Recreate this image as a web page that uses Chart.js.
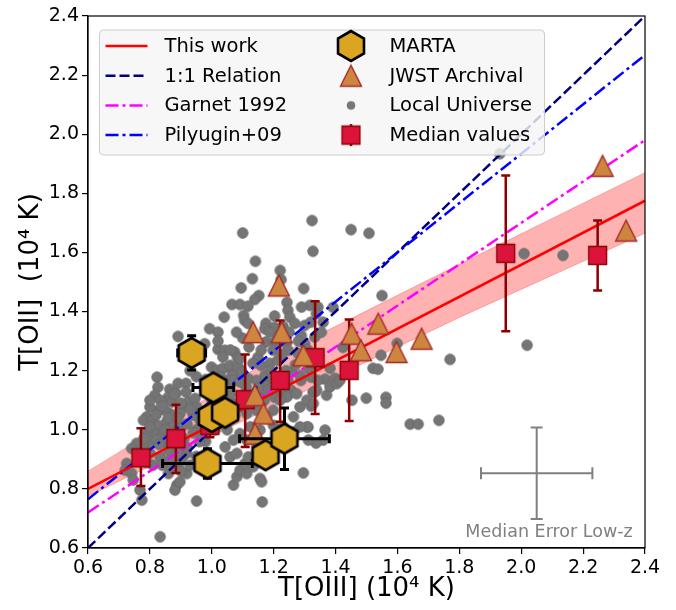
<!DOCTYPE html>
<html>
<head>
<meta charset="utf-8">
<script src="https://cdn.jsdelivr.net/npm/chart.js@4.4.1/dist/chart.umd.min.js"></script>
<style>
  html, body { margin: 0; padding: 0; background: #ffffff; }
</style>
</head>
<body>
<canvas id="tempChart" width="676" height="610"></canvas>
<script>
/* ---------- local universe sample: T[OIII], T[OII] (1e4 K) ---------- */
const localT3 = [
  1.100, 1.324, 1.327, 1.450, 1.508, 1.141, 1.221, 1.224, 1.131, 1.095, 1.297, 1.152, 1.139, 1.065, 1.091, 1.117,
  1.243, 1.317, 1.343, 1.338, 1.360, 1.550, 1.040, 1.103, 1.106, 1.203, 1.246, 1.252, 0.993, 1.020, 1.175, 1.171,
  1.203, 1.187, 1.214, 1.268, 1.300, 1.320, 0.891, 0.977, 1.020, 1.042, 1.036, 1.074, 1.083, 1.392, 1.424, 1.599,
  1.547, 1.521, 1.537, 1.382, 1.366, 1.398, 1.770, 2.009, 2.135, 2.019, 1.327, 1.321, 1.453, 1.499, 1.563, 1.563,
  1.311, 1.366, 1.360, 1.337, 1.641, 1.667, 1.734, 1.175, 1.203, 1.241, 1.246, 1.198, 1.225, 1.279, 1.300, 1.289,
  1.333, 1.354, 1.149, 1.133, 1.159, 1.187, 1.214, 1.030, 1.062, 1.094, 1.062, 1.090, 1.042, 0.823, 0.826, 0.864,
  0.891, 0.917, 0.917, 0.884, 0.859, 0.816, 1.288, 1.321, 1.343, 1.111, 1.171, 1.203, 1.246, 1.256, 1.220, 1.182,
  1.159, 1.203, 1.246, 1.333, 1.117, 1.290, 0.999, 1.016, 1.036, 1.059, 1.085, 1.097, 1.065, 1.027, 1.070, 1.091,
  1.118, 1.145, 1.172, 1.199, 1.226, 1.258, 1.285, 1.312, 1.339, 0.833, 0.871, 0.903, 0.897, 0.924, 0.946, 0.951,
  0.865, 0.849, 0.827, 0.800, 0.790, 0.779, 0.806, 0.827, 0.854, 0.876, 0.897, 0.838, 0.811, 0.790, 0.800, 0.822,
  0.854, 0.887, 0.903, 0.871, 0.919, 0.903, 0.865, 0.833, 0.800, 0.779, 0.757, 0.741, 0.725, 0.720, 0.741, 0.746,
  0.768, 0.774, 0.887, 0.881, 0.897, 0.860, 0.919, 0.892, 0.951, 0.833, 1.070, 1.081, 1.091, 1.113, 1.107, 1.134,
  1.118, 1.145, 1.156, 1.161, 1.163, 1.296, 1.307, 1.312, 1.091, 1.113, 1.145, 1.070, 1.043, 1.059, 1.081, 1.199,
  1.231, 1.264, 1.285, 1.264, 1.285, 1.307, 1.328, 1.339, 1.371, 1.382, 1.404, 1.414, 1.242, 1.274, 1.199, 1.221,
  1.070, 1.091, 1.048, 1.075, 1.113, 1.145, 1.027, 1.124, 1.156, 1.178, 0.978, 0.962, 0.950, 0.980, 1.000, 0.940,
  1.931, 0.800, 0.840, 0.880, 0.900, 0.930, 0.860, 0.890, 0.920, 0.940, 0.910, 0.880, 0.850, 0.820, 0.800, 0.830,
  0.860, 0.890, 0.920, 0.960, 0.780, 0.760, 0.790, 0.810, 0.840, 0.870, 0.900, 0.930, 0.950, 0.970, 0.990, 1.010,
  1.030, 1.050, 1.060, 1.100, 1.130, 1.150, 1.170, 1.190, 1.160, 1.120, 1.100, 1.080, 1.140, 1.230, 1.250, 1.280,
  1.310, 1.270, 1.240, 1.090, 1.060, 1.020, 0.960, 0.950, 0.980, 0.930
];
const localT2 = [
  1.666, 1.708, 1.604, 1.677, 1.665, 1.570, 1.539, 1.508, 1.511, 1.480, 1.478, 1.454, 1.441, 1.424, 1.424, 1.418,
  1.431, 1.421, 1.415, 1.393, 1.364, 1.454, 1.381, 1.387, 1.370, 1.385, 1.404, 1.381, 1.342, 1.330, 1.360, 1.342,
  1.347, 1.330, 1.314, 1.360, 1.353, 1.364, 1.316, 1.291, 1.272, 1.269, 1.246, 1.263, 1.244, 1.414, 1.279, 1.292,
  1.252, 1.208, 1.205, 1.208, 1.171, 1.174, 1.238, 1.596, 1.590, 1.286, 1.127, 1.080, 1.100, 1.107, 1.110, 1.090,
  1.009, 0.999, 0.965, 0.955, 1.019, 1.019, 1.032, 1.297, 1.297, 1.291, 1.269, 1.269, 1.255, 1.258, 1.291, 1.319,
  1.314, 1.330, 1.245, 1.225, 1.218, 1.225, 1.235, 1.201, 1.208, 1.201, 1.167, 1.167, 1.167, 1.178, 1.144, 1.137,
  1.157, 1.157, 1.127, 1.123, 1.110, 1.117, 1.167, 1.178, 1.167, 1.144, 1.157, 1.167, 1.167, 1.134, 1.134, 1.134,
  1.110, 1.110, 1.117, 1.128, 1.360, 1.415, 1.212, 1.201, 1.208, 1.218, 1.212, 1.195, 1.184, 1.178, 1.167, 1.162,
  1.173, 1.167, 1.184, 1.173, 1.178, 1.195, 1.184, 1.207, 1.218, 1.100, 1.094, 1.077, 1.055, 1.094, 1.106, 1.077,
  1.055, 1.066, 1.066, 1.077, 1.044, 1.032, 1.032, 1.015, 1.027, 1.022, 1.010, 0.987, 0.987, 0.993, 0.954, 0.965,
  0.954, 0.965, 0.942, 0.931, 0.920, 0.903, 0.897, 0.908, 0.920, 0.942, 0.954, 0.937, 0.886, 0.863, 0.852, 0.830,
  0.796, 0.762, 0.813, 0.796, 0.824, 0.852, 0.852, 0.875, 0.759, 0.638, 0.813, 0.841, 0.863, 0.852, 0.886, 0.875,
  0.908, 0.925, 0.835, 0.824, 0.756, 0.854, 1.010, 0.965, 0.987, 0.965, 0.948, 0.965, 0.942, 0.908, 0.920, 1.015,
  1.010, 0.993, 1.010, 1.044, 1.077, 1.100, 1.089, 1.134, 1.117, 1.145, 1.156, 1.167, 1.111, 1.122, 1.066, 1.100,
  1.089, 1.077, 1.066, 1.049, 1.055, 1.066, 1.100, 1.010, 0.999, 1.044, 1.134, 1.032, 1.000, 0.960, 1.100, 1.050,
  1.934, 1.100, 1.080, 1.120, 1.090, 1.070, 1.040, 1.040, 1.020, 0.990, 0.970, 0.990, 1.000, 1.050, 1.010, 0.950,
  0.930, 0.920, 0.940, 0.960, 0.970, 0.910, 0.890, 0.880, 0.880, 0.870, 0.860, 0.880, 0.910, 0.980, 1.040, 1.000,
  1.020, 1.000, 1.120, 1.100, 1.120, 1.140, 1.100, 1.200, 1.270, 1.280, 1.310, 1.330, 1.320, 1.350, 1.330, 1.300,
  1.270, 1.220, 1.200, 1.240, 1.270, 1.300, 1.240, 1.180, 1.170, 1.200
];

/* ---------- JWST archival ---------- */
const jwstT3 = [1.217, 1.134, 1.226, 1.296, 1.140, 1.167, 1.140, 1.452, 1.482, 1.538, 1.597, 1.678, 2.263, 2.339];
const jwstT2 = [1.488, 1.330, 1.330, 1.252, 1.117, 1.055, 0.987, 1.325, 1.269, 1.359, 1.263, 1.308, 1.893, 1.674];

/* ---------- MARTA ---------- */
const martaT3 = [0.935, 1.005, 1.000, 1.043, 0.986, 1.174, 1.235];
const martaT2 = [1.260, 1.143, 1.043, 1.058, 0.886, 0.914, 0.970];
const martaErrT3 = [0.045, 0.066, 0.010, 0.010, 0.145, 0.020, 0.145];
const martaErrT2 = [0.058, 0.012, 0.010, 0.010, 0.050, 0.020, 0.104];

/* ---------- binned medians ---------- */
const medianT3 = [0.771, 0.884, 0.994, 1.108, 1.221, 1.334, 1.444, 1.950, 2.247];
const medianT2 = [0.905, 0.970, 1.015, 1.102, 1.167, 1.244, 1.201, 1.597, 1.590];
const medianLo = [0.095, 0.116, 0.040, 0.160, 0.140, 0.191, 0.171, 0.264, 0.119];
const medianHi = [0.100, 0.115, 0.040, 0.153, 0.203, 0.191, 0.172, 0.263, 0.118];

/* ---------- relations ---------- */
const relT3 = [0.6, 2.4];
const fitT2 = [0.800, 1.775];
const oneToOneT2 = [0.6, 2.4];
const garnetT2 = [0.72, 1.98];
const pilyuginT2 = [0.765, 2.268];
const bandT3 = [0.6, 1.2, 1.8, 2.4];
const bandUpper = [0.86, 1.245, 1.56, 1.87];
const bandLower = [0.775, 1.08, 1.38, 1.665];

/* ---------- typical low-z uncertainty ---------- */
const lowzT3 = [2.05];
const lowzT2 = [0.853];
const lowzErrT3 = [0.18];
const lowzErrT2 = [0.155];

const pts = (xs, ys) => xs.map((v, i) => ({ x: v, y: ys[i] }));

/* marker images (matplotlib-like shapes) */
function makeMarker(shape, r, fill, stroke, lw) {
  const s = Math.ceil(2 * r + 2 * lw + 4);
  const c = document.createElement('canvas');
  c.width = s; c.height = s;
  const g = c.getContext('2d');
  const m = s / 2;
  g.beginPath();
  if (shape === 'hex') {
    for (let k = 0; k < 6; k++) {
      const a = Math.PI / 2 + k * Math.PI / 3;
      const px = m + r * Math.cos(a), py = m - r * Math.sin(a);
      if (k === 0) g.moveTo(px, py); else g.lineTo(px, py);
    }
  } else if (shape === 'tri') {
    g.moveTo(m, m - r); g.lineTo(m - r, m + r); g.lineTo(m + r, m + r);
  } else if (shape === 'square') {
    g.rect(m - r, m - r, 2 * r, 2 * r);
  } else {
    g.arc(m, m, r, 0, Math.PI * 2);
  }
  g.closePath();
  g.fillStyle = fill;
  g.fill();
  if (lw > 0) {
    g.lineWidth = lw; g.strokeStyle = stroke; g.lineJoin = 'miter';
    g.stroke();
  }
  return c;
}

const hexImg = makeMarker('hex', 15, '#DAA520', '#000000', 2.6);
const triImg = makeMarker('tri', 10.5, '#CD853F', '#A52A2A', 1.4);
const sqImg = makeMarker('square', 9, '#DC143C', '#8B0000', 1.3);
const dotImg = makeMarker('circle', 5.4, '#757575', '#666666', 0.6);
const dotLegendImg = makeMarker('circle', 4, '#777777', '#6a6a6a', 0.6);

/* error bars drawn just under each dataset's markers */
const errorBars = {
  id: 'errorBars',
  beforeDatasetDraw(chart, args) {
    const ds = chart.data.datasets[args.index];
    if (!ds.err) return;
    const { ctx, scales: { x, y } } = chart;
    const e = ds.err;
    ctx.save();
    ctx.strokeStyle = e.color;
    ctx.lineWidth = e.width;
    ds.data.forEach((p, i) => {
      const px = x.getPixelForValue(p.x), py = y.getPixelForValue(p.y);
      const xe = e.x ? e.x[i] : 0;
      const ylo = e.ylo ? e.ylo[i] : 0, yhi = e.yhi ? e.yhi[i] : 0;
      ctx.beginPath();
      if (xe > 0) {
        const x1 = x.getPixelForValue(p.x - xe), x2 = x.getPixelForValue(p.x + xe);
        ctx.moveTo(x1, py); ctx.lineTo(x2, py);
        ctx.moveTo(x1, py - e.cap); ctx.lineTo(x1, py + e.cap);
        ctx.moveTo(x2, py - e.cap); ctx.lineTo(x2, py + e.cap);
      }
      if (ylo > 0 || yhi > 0) {
        const y1 = y.getPixelForValue(p.y - ylo), y2 = y.getPixelForValue(p.y + yhi);
        ctx.moveTo(px, y1); ctx.lineTo(px, y2);
        ctx.moveTo(px - e.cap, y1); ctx.lineTo(px + e.cap, y1);
        ctx.moveTo(px - e.cap, y2); ctx.lineTo(px + e.cap, y2);
      }
      ctx.stroke();
    });
    ctx.restore();
  }
};

/* axes box, note and two-column legend */
const frameAndLegend = {
  id: 'frameAndLegend',
  afterDatasetsDraw(chart) {
    const { ctx, chartArea: a, scales: { x, y } } = chart;
    ctx.save();

    ctx.fillStyle = '#808080';
    ctx.font = "17.5px 'DejaVu Sans'";
    ctx.textAlign = 'center';
    ctx.textBaseline = 'alphabetic';
    ctx.fillText('Median Error Low-z', x.getPixelForValue(2.09), y.getPixelForValue(0.637));

    ctx.strokeStyle = '#000';
    ctx.lineWidth = 1.2;
    ctx.strokeRect(a.left, a.top, a.right - a.left, a.bottom - a.top);

    const bx = a.left + 11.5, by = a.top + 14, bw = 445, bh = 125;
    ctx.beginPath();
    ctx.roundRect(bx, by, bw, bh, 4);
    ctx.fillStyle = 'rgba(245,245,245,0.82)';
    ctx.fill();
    ctx.strokeStyle = '#cccccc';
    ctx.lineWidth = 1;
    ctx.stroke();

    ctx.font = "19.5px 'DejaVu Sans'";
    ctx.textAlign = 'left';
    ctx.textBaseline = 'middle';
    chart.data.datasets.forEach(ds => {
      if (!ds.legend) return;
      const [col, row] = ds.legend;
      const cy = by + 16 + row * 29.7;
      if (col === 0) {
        ctx.save();
        ctx.strokeStyle = ds.borderColor;
        ctx.lineWidth = ds.borderWidth;
        ctx.setLineDash(ds.borderDash || []);
        ctx.beginPath();
        ctx.moveTo(bx + 6, cy); ctx.lineTo(bx + 48, cy);
        ctx.stroke();
        ctx.restore();
        ctx.fillStyle = '#000';
        ctx.fillText(ds.label, bx + 65, cy + 1);
      } else {
        const mx = bx + 251.5;
        if (ds.err) {
          ctx.save();
          ctx.strokeStyle = ds.err.color;
          ctx.lineWidth = ds.err.width;
          ctx.beginPath();
          ctx.moveTo(mx, cy - 11); ctx.lineTo(mx, cy + 11);
          ctx.stroke();
          ctx.restore();
        }
        const img = ds.legendImg || ds.pointStyle;
        ctx.drawImage(img, mx - img.width / 2, cy - img.height / 2);
        ctx.fillStyle = '#000';
        ctx.fillText(ds.label, bx + 290, cy + 1);
      }
    });
    ctx.restore();
  }
};

Chart.defaults.font.family = "'DejaVu Sans', sans-serif";
Chart.defaults.color = '#000';

const lineDs = (label, ys, color, width, dash, order, legend) => ({
  type: 'line', label, data: pts(relT3, ys), borderColor: color, borderWidth: width,
  borderDash: dash, pointRadius: 0, fill: false, tension: 0, order, legend
});

new Chart(document.getElementById('tempChart'), {
  type: 'scatter',
  plugins: [errorBars, frameAndLegend],
  data: {
    datasets: [
      {
        label: 'MARTA', data: pts(martaT3, martaT2), pointStyle: hexImg, pointRadius: 15,
        order: 0, legend: [1, 0],
        err: { x: martaErrT3, ylo: martaErrT2, yhi: martaErrT2, color: '#000', width: 3, cap: 4.5 }
      },
      {
        label: 'JWST Archival', data: pts(jwstT3, jwstT2), pointStyle: triImg, pointRadius: 11,
        order: 1, legend: [1, 1]
      },
      {
        label: 'Median values', data: pts(medianT3, medianT2), pointStyle: sqImg, pointRadius: 9,
        order: 2, legend: [1, 3],
        err: { ylo: medianLo, yhi: medianHi, color: '#8B0000', width: 2.5, cap: 4.5 }
      },
      {
        label: 'lowz', data: pts(lowzT3, lowzT2), pointRadius: 0, order: 3,
        err: { x: lowzErrT3, ylo: lowzErrT2, yhi: lowzErrT2, color: '#808080', width: 2, cap: 6 }
      },
      lineDs('This work', fitT2, '#ff0000', 2.5, [], 4, [0, 0]),
      lineDs('Pilyugin+09', pilyuginT2, '#0000ff', 2.5, [13, 4, 3, 4], 5, [0, 3]),
      lineDs('Garnet 1992', garnetT2, '#ff00ff', 2.5, [13, 4, 3, 4], 6, [0, 2]),
      lineDs('1:1 Relation', oneToOneT2, '#000080', 2.5, [10, 4], 7, [0, 1]),
      {
        label: 'Local Universe', data: pts(localT3, localT2), pointStyle: dotImg, pointRadius: 5,
        legendImg: dotLegendImg, order: 8, legend: [1, 2]
      },
      {
        type: 'line', label: 'band', data: pts(bandT3, bandUpper), borderColor: 'rgba(255,0,0,0.25)',
        borderWidth: 1, backgroundColor: 'rgba(255,0,0,0.3)', pointRadius: 0, fill: '+1', order: 9
      },
      {
        type: 'line', label: 'band', data: pts(bandT3, bandLower), borderColor: 'rgba(255,0,0,0.25)',
        borderWidth: 1, pointRadius: 0, fill: false, order: 10
      }
    ]
  },
  options: {
    responsive: false,
    devicePixelRatio: 1,
    animation: false,
    events: [],
    layout: { padding: { top: 15, right: 31, left: 0, bottom: 0 } },
    plugins: { legend: { display: false }, tooltip: { enabled: false } },
    scales: {
      x: {
        type: 'linear', min: 0.6, max: 2.4,
        afterFit: s => { s.height = 62; },
        grid: { display: true, drawOnChartArea: false, drawTicks: true, tickLength: 6, color: '#000', lineWidth: 1.2 },
        border: { display: true, color: '#000', width: 1.2 },
        ticks: { stepSize: 0.2, padding: 3, font: { size: 19 }, color: '#000', maxRotation: 0,
                 callback: v => v.toFixed(1) },
        title: { display: true, text: 'T[OIII] (10⁴ K)', font: { size: 26 }, color: '#000', padding: { top: 0, bottom: 5 } }
      },
      y: {
        type: 'linear', min: 0.6, max: 2.4,
        afterFit: s => { s.width = 88; },
        grid: { display: true, drawOnChartArea: false, drawTicks: true, tickLength: 6, color: '#000', lineWidth: 1.2 },
        border: { display: true, color: '#000', width: 1.2 },
        ticks: { stepSize: 0.2, padding: 3, font: { size: 19 }, color: '#000',
                 callback: v => v.toFixed(1) },
        title: { display: true, text: 'T[OII]  (10⁴ K)', font: { size: 26 }, color: '#000', padding: { top: 16, bottom: 0 } }
      }
    }
  }
});
</script>
</body>
</html>
